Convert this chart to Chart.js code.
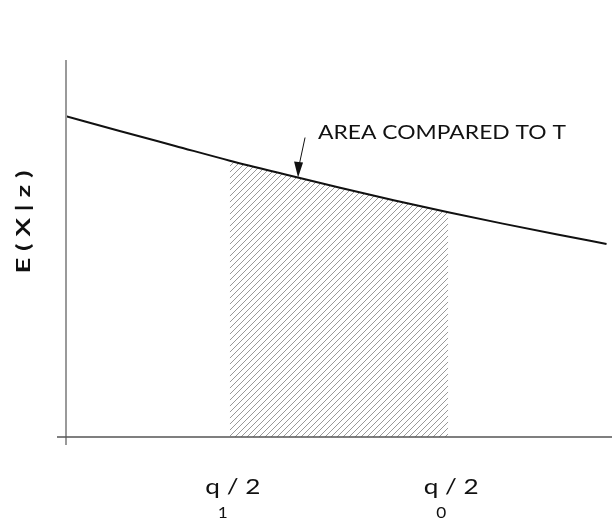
<!DOCTYPE html>
<html>
<head>
<meta charset="utf-8">
<script src="https://cdn.jsdelivr.net/npm/chart.js@4/dist/chart.umd.min.js"></script>
<style>
  body { margin: 0; background: #fff; }
  canvas { display: block; }
</style>
</head>
<body>
<canvas id="areaChart" width="612" height="520"></canvas>
<script>
// curve E(X|z) (x and y both on a 0..100 scale)
const xValues = [0, 10, 20, 30, 40, 50, 60, 70, 80, 90, 99];
const curveValues = [85.1, 81.1, 77.2, 73.3, 69.7, 66.2, 62.8, 59.6, 56.6, 53.7, 51.2];

// shaded band between q1/2 and q0/2
const shadeFrom = 30;
const shadeTo = 70;

// x tick labels (main text + subscript)
const tickValues = [30, 70];
const tickLabels = ['q / 2', 'q / 2'];
const tickSubs = ['1', '0'];

const yTitle = 'E ( X | z )';
const noteText = 'AREA COMPARED TO T';
const noteTipX = 42.5;

const ctx = document.getElementById('areaChart');

// diagonal hatch pattern
const tile = document.createElement('canvas');
tile.width = 6;
tile.height = 6;
const tctx = tile.getContext('2d');
tctx.strokeStyle = '#999';
tctx.lineWidth = 1;
tctx.beginPath();
tctx.moveTo(0, 6); tctx.lineTo(6, 0);
tctx.moveTo(-1, 1); tctx.lineTo(1, -1);
tctx.moveTo(5, 7); tctx.lineTo(7, 5);
tctx.stroke();
const hatch = ctx.getContext('2d').createPattern(tile, 'repeat');

const curvePoints = xValues.map((x, i) => ({ x: x, y: curveValues[i] }));
const shadePoints = curvePoints.filter(p => p.x >= shadeFrom && p.x <= shadeTo);

function curveAt(x) {
    for (let i = 1; i < xValues.length; i++) {
        if (x <= xValues[i]) {
            const t = (x - xValues[i - 1]) / (xValues[i] - xValues[i - 1]);
            return curveValues[i - 1] + t * (curveValues[i] - curveValues[i - 1]);
        }
    }
    return curveValues[curveValues.length - 1];
}

// draw text stretched to a given width (the original face is very wide)
function fillFit(c, text, x, y, width) {
    const w = c.measureText(text).width;
    c.save();
    c.translate(x, y);
    c.scale(width / w, 1);
    c.fillText(text, 0, 0);
    c.restore();
}

const decorations = {
    id: 'decorations',
    afterDatasetsDraw(chart) {
        const c = chart.ctx;
        const xs = chart.scales.x;
        const ys = chart.scales.y;
        const x0 = xs.getPixelForValue(0);
        const y0 = ys.getPixelForValue(0);
        c.save();

        // axes
        c.strokeStyle = '#9a9a9a';
        c.lineWidth = 2;
        c.beginPath();
        c.moveTo(x0, chart.chartArea.top);
        c.lineTo(x0, y0 + 8);
        c.stroke();
        c.strokeStyle = '#555';
        c.lineWidth = 1.5;
        c.beginPath();
        c.moveTo(x0 - 9, y0);
        c.lineTo(chart.chartArea.right, y0);
        c.stroke();

        c.fillStyle = '#111';
        c.textAlign = 'center';
        c.textBaseline = 'middle';

        // y title
        c.save();
        c.translate(24, 222);
        c.rotate(-Math.PI / 2);
        c.font = 'bold 18px Lato';
        fillFit(c, yTitle, 0, 0, 103);
        c.restore();

        // x tick labels
        tickValues.forEach((v, i) => {
            const px = xs.getPixelForValue(v);
            c.font = '21px Lato';
            fillFit(c, tickLabels[i], px + 3, 487, 55);
            c.font = '16px Lato';
            fillFit(c, tickSubs[i], px - 7, 513, 10);
        });

        // annotation
        c.font = '20px Lato';
        c.textAlign = 'left';
        c.textBaseline = 'alphabetic';
        const nw = c.measureText(noteText).width;
        c.save();
        c.translate(318, 139);
        c.scale(248 / nw, 1);
        c.fillText(noteText, 0, 0);
        c.restore();

        const tx = xs.getPixelForValue(noteTipX);
        const ty = ys.getPixelForValue(curveAt(noteTipX));
        c.strokeStyle = '#111';
        c.lineWidth = 1;
        c.beginPath();
        c.moveTo(tx + 7, ty - 40);
        c.lineTo(tx + 1, ty - 12);
        c.stroke();
        c.beginPath();
        c.moveTo(tx, ty);
        c.lineTo(tx - 4, ty - 16);
        c.lineTo(tx + 5, ty - 15);
        c.closePath();
        c.fill();

        c.restore();
    }
};

new Chart(ctx, {
    type: 'line',
    data: {
        datasets: [{
            data: curvePoints,
            borderColor: '#111',
            borderWidth: 2,
            pointRadius: 0,
            cubicInterpolationMode: 'monotone',
            fill: false,
            order: 0
        },
        {
            data: shadePoints,
            borderWidth: 0,
            borderColor: 'rgba(0,0,0,0)',
            backgroundColor: hatch,
            pointRadius: 0,
            cubicInterpolationMode: 'monotone',
            fill: 'origin',
            order: 1
        }]
    },
    options: {
        responsive: false,
        animation: false,
        layout: {
            padding: { left: 66, top: 60, right: 0, bottom: 83 }
        },
        plugins: {
            legend: { display: false },
            tooltip: { enabled: false }
        },
        scales: {
            x: { type: 'linear', min: 0, max: 100, display: false },
            y: { type: 'linear', min: 0, max: 100, display: false }
        }
    },
    plugins: [decorations]
});
</script>
</body>
</html>
